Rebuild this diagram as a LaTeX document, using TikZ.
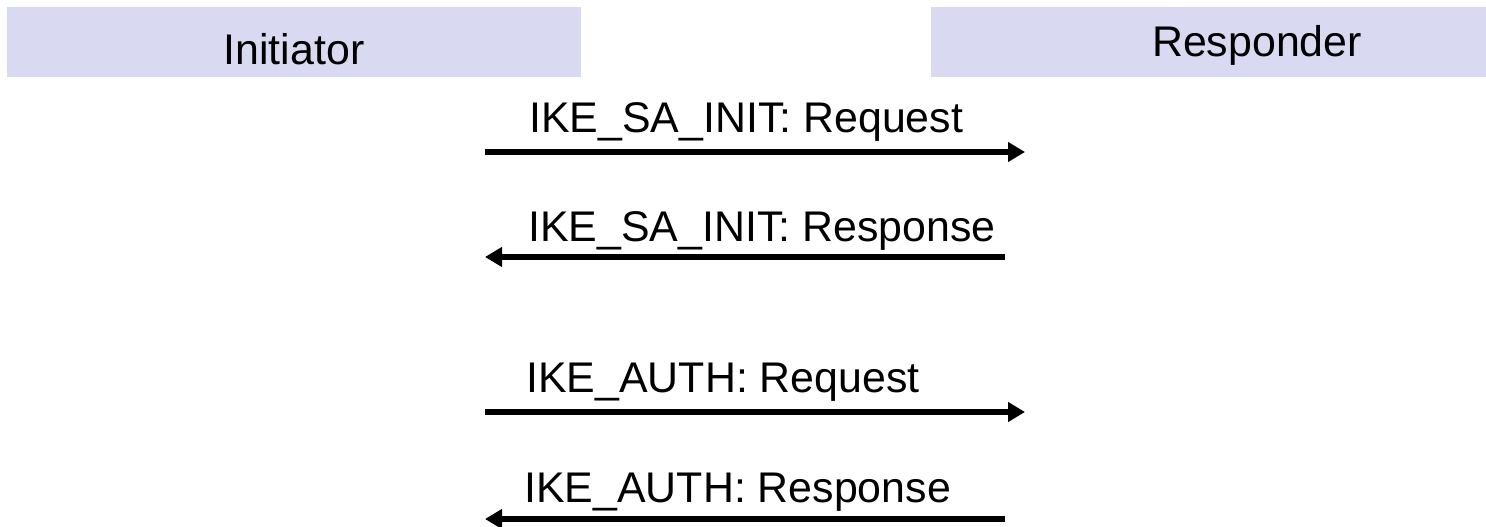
\documentclass[tikz,border=0pt]{standalone}
\usepackage{fontspec}
\setmainfont{Liberation Sans}
\usepackage{tikz}
\usetikzlibrary{arrows.meta,positioning}
\definecolor{partyfill}{HTML}{D9D9F2}
\tikzset{
  party/.style={rectangle,fill=partyfill,minimum height=1.4cm,inner sep=0pt,text depth=0pt},
  msgtext/.style={anchor=base west,inner sep=0pt},
  msg/.style={line width=0.12cm,-{Triangle[length=0.34cm,width=0.38cm]}}
}

\begin{document}
\begin{tikzpicture}[font=\fontsize{24.4}{29}\selectfont]
\clip (0,0) rectangle (29.72,-10.54);
% \draw[help lines] (0,0) grid (29,-10);
\node (init) [party,minimum width=11.48cm,text height=0.92cm] at (5.88,-0.84) {Initiator};
\node (resp) [party,minimum width=13.04cm,text height=0.6cm] at (25.14,-0.84) {Responder};
%
\coordinate (i1) at (9.70,-3.04);  \coordinate (r1) at (20.50,-3.04);
\coordinate (i2) at (9.70,-5.14);  \coordinate (r2) at (20.10,-5.14);
\coordinate (i3) at (9.70,-8.24);  \coordinate (r3) at (20.50,-8.24);
\coordinate (i4) at (9.70,-10.38); \coordinate (r4) at (20.10,-10.38);
%
\node (saireq) [msgtext] at (10.58,-2.64) {IKE\_SA\_INIT: Request};
\node (sairsp) [msgtext] at (10.56,-4.84) {IKE\_SA\_INIT: Response};
\node (authreq) [msgtext] at (10.52,-7.84) {IKE\_AUTH: Request};
\node (authrsp) [msgtext] at (10.48,-10.04) {IKE\_AUTH: Response};
%
\draw[msg] (i1) -- (r1);
\draw[msg] (r2) -- (i2);
\draw[msg] (i3) -- (r3);
\draw[msg] (r4) -- (i4);
\end{tikzpicture}
\end{document}
